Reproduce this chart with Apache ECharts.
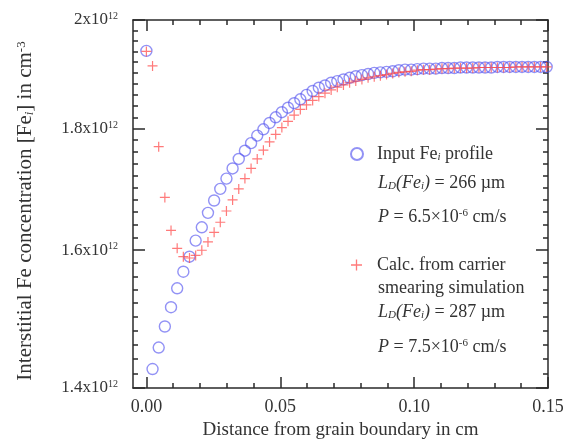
<!DOCTYPE html>
<html>
<head>
<meta charset="utf-8">
<script src="https://cdn.jsdelivr.net/npm/echarts@6/dist/echarts.min.js"></script>
<style>
html, body { margin: 0; padding: 0; background: #fff; }
#chart { width: 565px; height: 441px; }
</style>
</head>
<body>
<div id="chart"></div>
<script>
// distance from grain boundary (cm)
const distance = [
    0, 0.0023, 0.0046, 0.0069, 0.0092, 0.0115, 0.0138, 0.0161, 0.0184, 0.0207,
    0.023, 0.0253, 0.0276, 0.0299, 0.0322, 0.0345, 0.0368, 0.0391, 0.0414, 0.0437,
    0.046, 0.0483, 0.0506, 0.0529, 0.0552, 0.0575, 0.0598, 0.0621, 0.0644, 0.0667,
    0.069, 0.0713, 0.0736, 0.0759, 0.0782, 0.0805, 0.0828, 0.0851, 0.0874, 0.0897,
    0.092, 0.0943, 0.0966, 0.0989, 0.1012, 0.1035, 0.1058, 0.1081, 0.1104, 0.1127,
    0.115, 0.1173, 0.1196, 0.1219, 0.1242, 0.1265, 0.1288, 0.1311, 0.1334, 0.1357,
    0.138, 0.1403, 0.1426, 0.1449, 0.1472, 0.1495
];
// [Fe_i] in units of 1e12 cm^-3
const inputProfile = [
    1.941, 1.426, 1.456, 1.486, 1.514, 1.542, 1.567, 1.590, 1.615, 1.636,
    1.659, 1.679, 1.698, 1.715, 1.732, 1.748, 1.762, 1.775, 1.788, 1.799,
    1.810, 1.820, 1.829, 1.837, 1.845, 1.852, 1.860, 1.867, 1.873, 1.877,
    1.882, 1.885, 1.888, 1.891, 1.894, 1.896, 1.898, 1.900, 1.901, 1.902,
    1.903, 1.905, 1.906, 1.906, 1.907, 1.908, 1.908, 1.908, 1.909, 1.909,
    1.909, 1.910, 1.910, 1.910, 1.910, 1.910, 1.910, 1.911, 1.911, 1.911,
    1.911, 1.911, 1.911, 1.911, 1.911, 1.911
];
const smearingCalc = [
    1.940, 1.913, 1.769, 1.684, 1.631, 1.603, 1.590, 1.588, 1.592, 1.600,
    1.613, 1.628, 1.644, 1.662, 1.680, 1.698, 1.715, 1.732, 1.748, 1.763,
    1.777, 1.790, 1.802, 1.813, 1.824, 1.834, 1.842, 1.850, 1.857, 1.863,
    1.869, 1.874, 1.878, 1.882, 1.885, 1.888, 1.891, 1.893, 1.895, 1.897,
    1.899, 1.901, 1.902, 1.903, 1.905, 1.906, 1.906, 1.907, 1.908, 1.908,
    1.909, 1.909, 1.909, 1.909, 1.910, 1.910, 1.910, 1.910, 1.910, 1.910,
    1.911, 1.911, 1.911, 1.911, 1.911, 1.911
];
const xTicks = [0, 0.05, 0.1, 0.15];
const yTicks = [1.4, 1.6, 1.8, 2.0];

const blueName = 'Input Fe_i profile';
const redName = 'Calc. from carrier smearing simulation';

let xMinor = [];
for (let k = 1; k < 15; k++) {
    if (k % 5) xMinor.push(k / 100);
}
let yMinor = [];
for (let k = 71; k < 100; k++) {
    if (k % 10) yMinor.push(Math.log10(k / 50));
}
let yTicksLog = yTicks.map(v => Math.log10(v));

const font = 'Liberation Serif';
const textColor = '#333';
const axisLine = {color: '#2a2a2a', width: 1.5};
const plus = 'path://M4.4,0 H5.6 V4.4 H10 V5.6 H5.6 V10 H4.4 V5.6 H0 V4.4 H4.4 Z';

function richStyles(key, size) {
    let s = {};
    let base = {fontFamily: font, fontSize: size};
    let small = Math.round(size * 0.6);
    s.n = Object.assign({}, base);
    s.it = Object.assign({}, base, {fontStyle: 'italic'});
    s.sup = {fontFamily: font, fontSize: small, verticalAlign: 'top'};
    s.sub = {fontFamily: font, fontSize: small, verticalAlign: 'bottom', fontStyle: 'italic'};
    for (let k in s) s[k][key] = textColor;
    return s;
}

function tickAxis(dir, position, length, values, line) {
    let ax = {
        type: 'value',
        position: position,
        axisLine: {show: !!line, onZero: false, lineStyle: axisLine},
        axisTick: {show: true, inside: true, length: length, customValues: values, lineStyle: axisLine},
        axisLabel: {show: false},
        splitLine: {show: false}
    };
    if (dir === 'x') {
        ax.min = -0.005;
        ax.max = 0.15;
    } else {
        ax.min = Math.log10(1.4);
        ax.max = Math.log10(2.0);
    }
    return ax;
}

let myChart = echarts.init(document.getElementById('chart'));

let xMain = tickAxis('x', 'bottom', 11, xTicks, true);
xMain.axisLabel = {
    show: true, customValues: xTicks, margin: 10,
    fontFamily: font, fontSize: 18, color: textColor,
    formatter: v => v.toFixed(2)
};
xMain.name = 'Distance from grain boundary in cm';
xMain.nameLocation = 'middle';
xMain.nameGap = 33;
xMain.nameMoveOverlap = false;
xMain.nameTextStyle = {fontFamily: font, fontSize: 19, color: textColor};

let yMain = tickAxis('y', 'left', 12, yTicksLog, false);
yMain.axisLabel = {
    show: true, customValues: yTicksLog, margin: 15,
    showMinLabel: true, showMaxLabel: true,
    formatter: function (v) {
        let r = Math.round(Math.pow(10, v) * 10) / 10;
        return '{n|' + r + 'x10}{sup|12}';
    },
    rich: richStyles('color', 17)
};
yMain.name = '{n|Interstitial Fe concentration [Fe}{sub|i}{n|] in cm}{sup|-3}';
yMain.nameLocation = 'middle';
yMain.nameRotate = 90;
yMain.nameGap = 97;
yMain.nameMoveOverlap = false;
yMain.nameTextStyle = {rich: richStyles('color', 21), padding: [0, 14, 0, 0]};

let option = {
    animation: false,
    backgroundColor: '#fff',
    grid: {left: 133, right: 17, top: 20, bottom: 53, containLabel: false, outerBoundsMode: 'none'},
    xAxis: [
        xMain,
        tickAxis('x', 'bottom', 5, xMinor, false),
        tickAxis('x', 'top', 11, xTicks, true),
        tickAxis('x', 'top', 5, xMinor, false)
    ],
    yAxis: [
        {
            type: 'log', logBase: 10, min: 1.4, max: 2.0, position: 'left',
            axisLine: {show: true, onZero: false, lineStyle: axisLine},
            axisTick: {show: false}, axisLabel: {show: false},
            splitLine: {show: false}, minorTick: {show: false}
        },
        yMain,
        tickAxis('y', 'left', 5, yMinor, false),
        tickAxis('y', 'right', 12, yTicksLog, true),
        tickAxis('y', 'right', 5, yMinor, false)
    ],
    legend: [
        {
            data: [blueName], left: 345, top: 140, orient: 'vertical',
            itemWidth: 12, itemHeight: 12,
            formatter: () => '{n|Input Fe}{sub|i}{n| profile}',
            textStyle: {padding: [0, 0, 0, 9], rich: richStyles('color', 18)}
        },
        {
            data: [redName], left: 346, top: 251, orient: 'vertical',
            itemWidth: 11, itemHeight: 11,
            formatter: () => '{n|Calc. from carrier}',
            textStyle: {padding: [0, 0, 0, 10], rich: richStyles('color', 18)}
        }
    ],
    graphic: [
        {type: 'text', x: 378, y: 183, style: {text: '{it|L}{sub|D}{it|(Fe}{sub|i}{it|)}{n| = 266 µm}', verticalAlign: 'middle', rich: richStyles('fill', 18)}},
        {type: 'text', x: 378, y: 217, style: {text: '{it|P}{n| = 6.5×10}{sup|-6}{n| cm/s}', verticalAlign: 'middle', rich: richStyles('fill', 18)}},
        {type: 'text', x: 378, y: 288, style: {text: '{n|smearing simulation}', verticalAlign: 'middle', rich: richStyles('fill', 18)}},
        {type: 'text', x: 378, y: 312, style: {text: '{it|L}{sub|D}{it|(Fe}{sub|i}{it|)}{n| = 287 µm}', verticalAlign: 'middle', rich: richStyles('fill', 18)}},
        {type: 'text', x: 378, y: 347, style: {text: '{it|P}{n| = 7.5×10}{sup|-6}{n| cm/s}', verticalAlign: 'middle', rich: richStyles('fill', 18)}}
    ],
    series: [
        {
            name: blueName, type: 'scatter', xAxisIndex: 0, yAxisIndex: 0,
            data: distance.map((x, i) => [x, inputProfile[i]]),
            symbol: 'circle', symbolSize: 11,
            itemStyle: {color: 'rgba(0,0,0,0)', borderColor: 'rgba(85,85,240,0.8)', borderWidth: 1.4}
        },
        {
            name: redName, type: 'scatter', xAxisIndex: 0, yAxisIndex: 0,
            data: distance.map((x, i) => [x, smearingCalc[i]]),
            symbol: plus, symbolSize: 10,
            itemStyle: {color: 'rgba(255,60,60,0.85)'}
        }
    ]
};
myChart.setOption(option);
</script>
</body>
</html>
